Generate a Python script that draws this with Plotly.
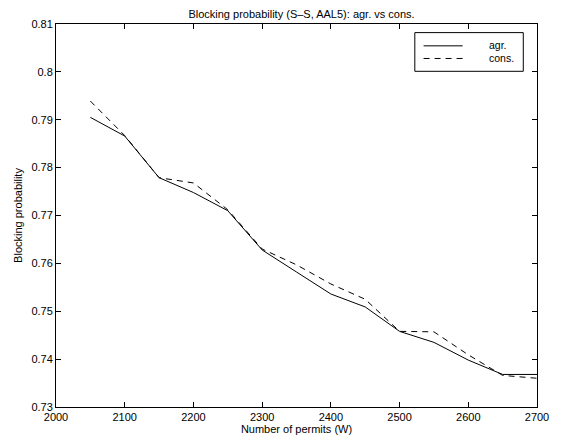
import plotly.graph_objects as go

permits = [2050, 2100, 2150, 2200, 2250, 2300, 2350, 2400, 2450, 2500, 2550, 2600, 2650, 2700]
agr = [0.7905, 0.7866, 0.7779, 0.7748, 0.7710, 0.7628, 0.7582, 0.7536, 0.7509, 0.7458,
       0.7435, 0.7398, 0.7368, 0.7368]
cons = [0.7939, 0.7867, 0.7779, 0.7768, 0.7712, 0.7630, 0.7597, 0.7557, 0.7525, 0.7458,
        0.7457, 0.7409, 0.7366, 0.7360]
series_names = ["agr.", "cons."]

x_ticks = [2000, 2100, 2200, 2300, 2400, 2500, 2600, 2700]
y_ticks = [0.73, 0.74, 0.75, 0.76, 0.77, 0.78, 0.79, 0.80, 0.81]
y_labels = ["0.73", "0.74", "0.75", "0.76", "0.77", "0.78", "0.79", "0.8", "0.81"]

FONT = "Liberation Sans, Arial, Helvetica, sans-serif"
DASH = "6px,5px"

fig = go.Figure()
fig.add_trace(go.Scatter(x=permits, y=agr, mode="lines", name=series_names[0],
                         line=dict(color="black", width=1), showlegend=False,
                         hoverinfo="skip"))
fig.add_trace(go.Scatter(x=permits, y=cons, mode="lines", name=series_names[1],
                         line=dict(color="black", width=1, dash=DASH), showlegend=False,
                         hoverinfo="skip"))

axis_common = dict(showline=True, mirror="ticks", linecolor="black", linewidth=1,
                   ticks="inside", ticklen=5, tickcolor="black", showgrid=False,
                   zeroline=False, tickfont=dict(family=FONT, size=11, color="black"))

# Legend drawn manually (box, line samples, labels) in paper coordinates
shapes = [
    dict(type="rect", xref="paper", yref="paper", x0=0.746, x1=0.9715, y0=0.8765, y1=0.9775,
         line=dict(color="black", width=1), fillcolor="white", layer="above"),
    dict(type="line", xref="paper", yref="paper", x0=0.7642, x1=0.8455, y0=0.943, y1=0.943,
         line=dict(color="black", width=1), layer="above"),
    dict(type="line", xref="paper", yref="paper", x0=0.7642, x1=0.8455, y0=0.910, y1=0.910,
         line=dict(color="black", width=1, dash=DASH), layer="above"),
]
annotations = [
    dict(text=series_names[0], xref="paper", yref="paper", x=0.8957, y=0.945,
         xanchor="left", yanchor="middle", showarrow=False,
         font=dict(family=FONT, size=10.5, color="black")),
    dict(text=series_names[1], xref="paper", yref="paper", x=0.8957, y=0.910,
         xanchor="left", yanchor="middle", showarrow=False,
         font=dict(family=FONT, size=10.5, color="black")),
]

fig.update_layout(
    width=561, height=445,
    margin=dict(l=56, r=13, t=24, b=35),
    paper_bgcolor="white", plot_bgcolor="white",
    font=dict(family=FONT, size=11, color="black"),
    title=dict(text="Blocking probability (S\u2013S, AAL5): agr. vs cons.",
               x=0.5375, xanchor="center", y=0.968, yanchor="middle",
               font=dict(family=FONT, size=11, color="black")),
    xaxis=dict(range=[2000, 2700], tickvals=x_ticks, ticktext=[str(v) for v in x_ticks],
               title=dict(text="Number of permits (W)", standoff=2,
                          font=dict(family=FONT, size=11, color="black")),
               **axis_common),
    yaxis=dict(range=[0.73, 0.81], tickvals=y_ticks, ticktext=y_labels,
               title=dict(text="Blocking probability", standoff=6,
                          font=dict(family=FONT, size=11, color="black")),
               **axis_common),
    shapes=shapes,
    annotations=annotations,
    showlegend=False,
    hovermode=False,
)

fig.write_html("out.html",
               config={"displayModeBar": False, "staticPlot": True},
               post_script="document.body.style.margin='0';document.body.style.padding='0';")
